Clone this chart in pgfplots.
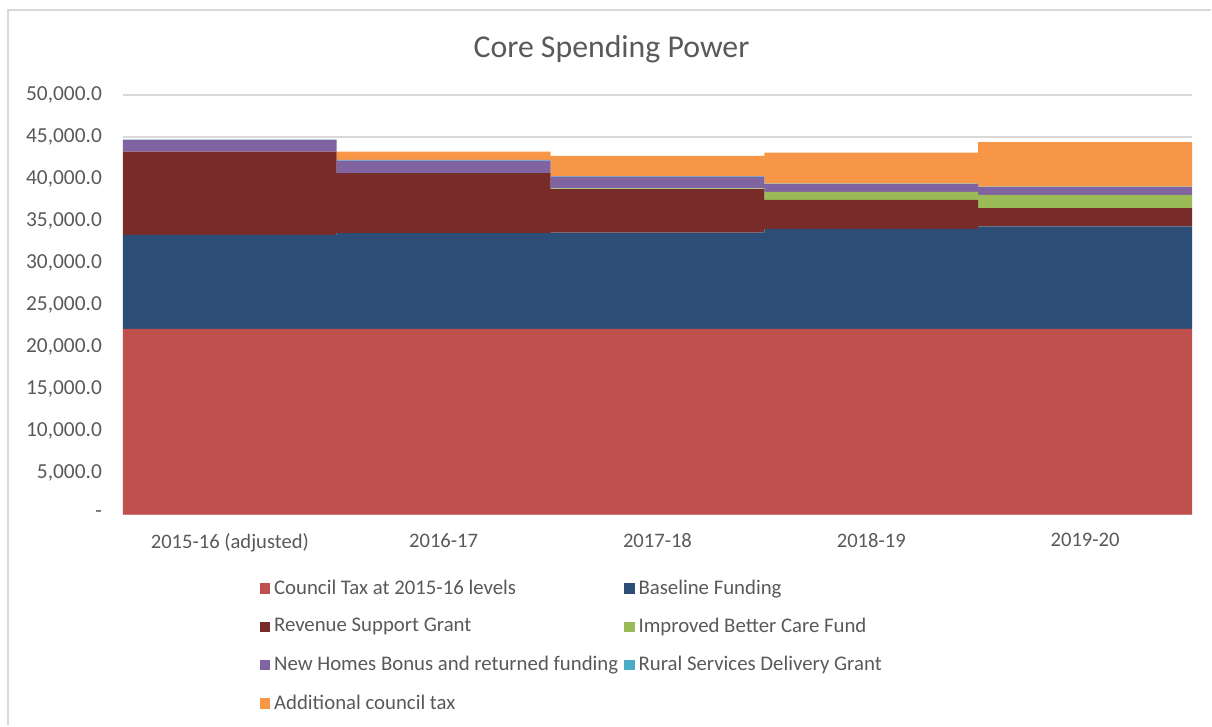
\documentclass[border=0pt]{standalone}
\usepackage{pgfplots}
\pgfplotsset{compat=1.18}
\usepackage{fontspec}
\setmainfont{Carlito}

\definecolor{ct}{HTML}{C0504D}
\definecolor{bf}{HTML}{2C4D75}
\definecolor{rsg}{HTML}{772C2A}
\definecolor{ibcf}{HTML}{9BBB59}
\definecolor{nhb}{HTML}{8064A2}
\definecolor{rsdg}{HTML}{4BACC6}
\definecolor{act}{HTML}{F79646}
\definecolor{txt}{HTML}{595959}
\definecolor{gridc}{HTML}{D9D9D9}

\pgfplotsset{sq/.style={legend image code/.code={\fill[##1] (0pt,-2.6pt) rectangle (5.2pt,2.6pt);}}}

\begin{document}
\begin{tikzpicture}
\begin{axis}[
    at={(0,0)}, anchor=south west,
    width=535pt, height=210pt, scale only axis,
    ybar stacked, bar width=1,
    xmin=-0.5, xmax=4.5, ymin=0, ymax=50000,
    scaled y ticks=false,
    xtick={0,1,2,3,4},
    xticklabels={2015-16 (adjusted),2016-17,2017-18,2018-19,2019-20},
    ytick={0,5000,10000,15000,20000,25000,30000,35000,40000,45000,50000},
    yticklabels={{-},{5,000.0},{10,000.0},{15,000.0},{20,000.0},{25,000.0},{30,000.0},{35,000.0},{40,000.0},{45,000.0},{50,000.0}},
    axis line style={draw=none},
    major tick length=0pt,
    ymajorgrids, grid style={gridc, line width=0.8pt},
    ticklabel style={text=txt},
    xticklabel style={font=\fontsize{10.3}{12}\selectfont, yshift=-6pt},
    yticklabel style={font=\fontsize{10.7}{12}\selectfont, xshift=-7pt},
    legend columns=2,
    legend cell align=left,
    legend style={draw=none, fill=none, at={(0.122,-0.135)}, anchor=north west,
        font=\fontsize{10.4}{12}\selectfont, text=txt,
        /tikz/every even column/.append style={column sep=1pt},
        row sep=6.5pt},
]
\addplot[fill=ct, draw=none, sq] coordinates {(0,22140) (1,22140) (2,22140) (3,22140) (4,22140)};
\addplot[fill=bf, draw=none, sq] coordinates {(0,11190) (1,11380) (2,11460) (3,11910) (4,12190)};
\addplot[fill=rsg, draw=none, sq] coordinates {(0,9920) (1,7160) (2,5170) (3,3450) (4,2170)};
\addplot[fill=ibcf, draw=none, sq] coordinates {(0,0) (1,0) (2,105) (3,950) (4,1590)};
\addplot[fill=nhb, draw=none, sq] coordinates {(0,1390) (1,1500) (2,1390) (3,910) (4,910)};
\addplot[fill=rsdg, draw=none, sq] coordinates {(0,40) (1,80) (2,65) (3,65) (4,81)};
\addplot[fill=act, draw=none, sq] coordinates {(0,0) (1,990) (2,2420) (3,3690) (4,5280)};
\legend{Council Tax at 2015-16 levels, Baseline Funding, Revenue Support Grant, Improved Better Care Fund, New Homes Bonus and returned funding, Rural Services Delivery Grant, Additional council tax}
\end{axis}
\node[font=\fontsize{15.9}{18}\selectfont, text=txt] at (244.5pt,233pt) {Core Spending Power};
\draw[gridc, line width=1pt] (-57.5pt,-105.5pt) -- (-57.5pt,252.5pt) -- (544.5pt,252.5pt);
\path[use as bounding box] (-61.5pt,-105.5pt) rectangle (544.5pt,257.5pt);
\end{tikzpicture}
\end{document}
